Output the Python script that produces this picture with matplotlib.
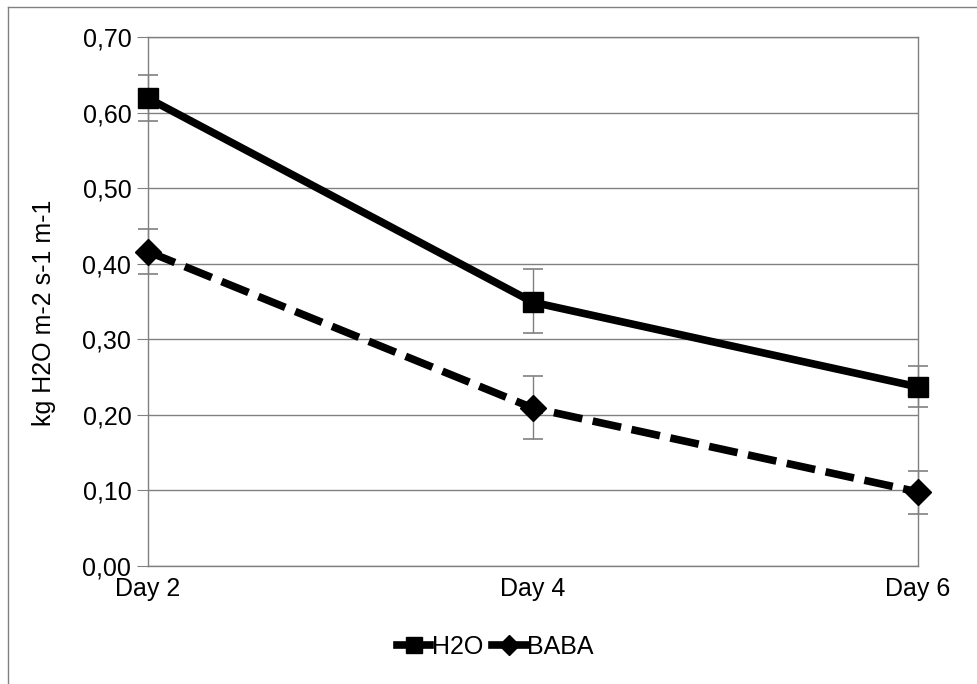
import matplotlib
matplotlib.use("Agg")
import matplotlib.pyplot as plt
from matplotlib.lines import Line2D
from matplotlib.ticker import MultipleLocator, FuncFormatter

plt.rcParams['font.family'] = ['Liberation Sans', 'DejaVu Sans']

days = ["Day 2", "Day 4", "Day 6"]
h2o = [0.619, 0.349, 0.237]
h2o_err_hi = [0.650, 0.393, 0.265]
h2o_err_lo = [0.589, 0.308, 0.210]
baba = [0.416, 0.209, 0.098]
baba_err_hi = [0.446, 0.251, 0.126]
baba_err_lo = [0.386, 0.168, 0.069]

fig = plt.figure(figsize=(9.78, 6.84), dpi=100)
ax = fig.add_axes([148/978, 1-566/684, (918-148)/978, (566-37)/684])

x = list(range(len(days)))
grid_col = "#808080"
fs = 18


def err(vals, lo, hi):
    return [[v - l for v, l in zip(vals, lo)], [h - v for v, h in zip(vals, hi)]]


for vals, lo, hi in [(h2o, h2o_err_lo, h2o_err_hi), (baba, baba_err_lo, baba_err_hi)]:
    _, caps, bars = ax.errorbar(x, vals, yerr=err(vals, lo, hi), fmt='none',
                                ecolor=grid_col, elinewidth=1, capsize=7,
                                capthick=1.2, zorder=2)
    for c in caps:
        c.set_color('black')
        c.set_clip_on(False)
    for b in bars:
        b.set_clip_on(False)

ax.plot(x, h2o, color='black', lw=5.5, marker='s', markersize=14,
        clip_on=False, zorder=3)
ax.plot(x, baba, color='black', lw=5.5, marker='D', markersize=13,
        dashes=(3.8, 1.4), clip_on=False, zorder=3)

ax.set_xlim(0, 2)
ax.set_ylim(0, 0.70)
ax.yaxis.set_major_locator(MultipleLocator(0.1))
ax.yaxis.set_major_formatter(FuncFormatter(lambda v, p: f"{v:.2f}".replace('.', ',')))
ax.set_xticks(x)
ax.set_xticklabels(days)
ax.grid(axis='y', color=grid_col, lw=1)
ax.set_axisbelow(True)
for s in ax.spines.values():
    s.set_color(grid_col)
    s.set_linewidth(1)
ax.tick_params(axis='y', length=8, color=grid_col, labelsize=fs, pad=4)
ax.tick_params(axis='x', length=0, labelsize=fs, pad=8)

fig.text(44/978, 1-313/684, "kg H2O m-2 s-1 m-1", rotation=90,
         ha='center', va='center', fontsize=fs)

handles = [
    Line2D([], [], color='black', lw=5.5, marker='s', markersize=11),
    Line2D([], [], color='black', lw=5.5, marker='D', markersize=10),
]
fig.legend(handles, ["H2O", "BABA"], loc='center', bbox_to_anchor=(495/978, 1-647/684),
           ncol=2, frameon=False, fontsize=fs, handlelength=1.35,
           handletextpad=0.05, columnspacing=0.35, borderpad=0)

# outer frame
fig.add_artist(Line2D([8/978, 1], [1-7/684, 1-7/684], color=grid_col, lw=1,
                      transform=fig.transFigure))
fig.add_artist(Line2D([8/978, 8/978], [0, 1-7/684], color=grid_col, lw=1,
                      transform=fig.transFigure))

fig.savefig("out.png", dpi=100)
